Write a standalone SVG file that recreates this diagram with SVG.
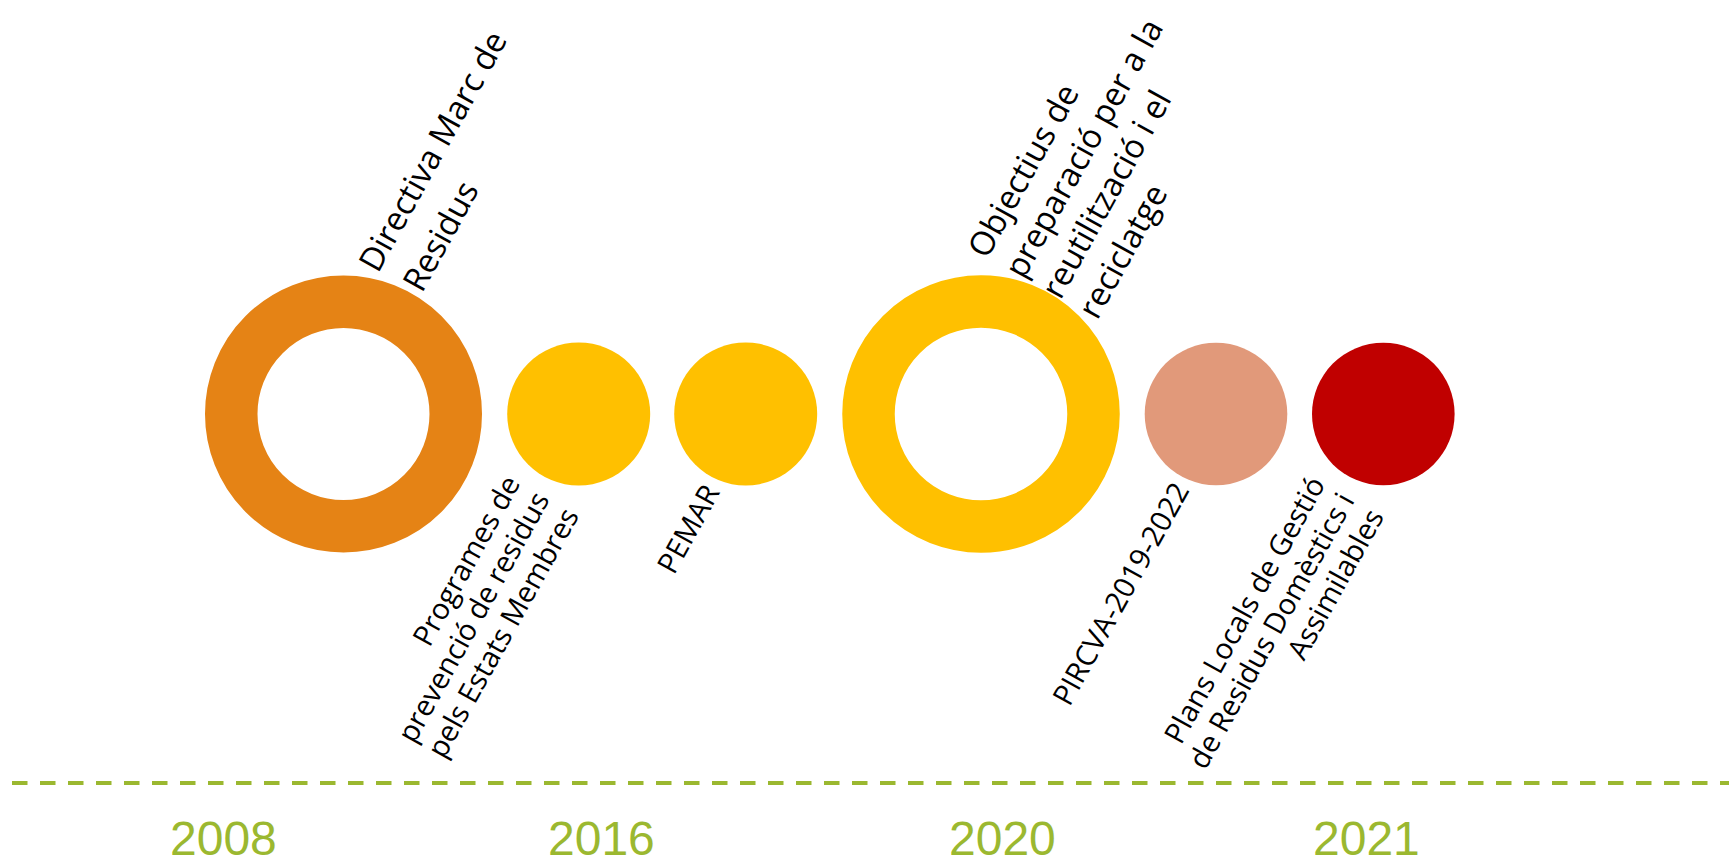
<svg xmlns="http://www.w3.org/2000/svg" width="1729" height="858" viewBox="0 0 1729 858">
  <style>
    .lbl { font-family: "Open Sans", "DejaVu Sans", sans-serif; fill: #000000; }
    .top { font-size: 33px; }
    .bot { font-size: 29px; text-anchor: end; }
    .year { font-family: "Liberation Sans", Arial, sans-serif; font-size: 48px; fill: #9BB830; }
    .ring { fill: none; stroke-width: 52.5; }
  </style>
  <rect width="1729" height="858" fill="#ffffff"/>

  <g id="connectors">
    <line x1="12" y1="783" x2="1729" y2="783" stroke="#9BB830" stroke-width="4" stroke-dasharray="15.5 12.5"/>
  </g>

  <g id="node-directiva">
    <circle class="ring" cx="343.5" cy="414" r="112.25" stroke="#E58315"/>
    <g transform="translate(378,274) rotate(-61)">
      <text class="lbl top" x="0" y="0">Directiva Marc de</text>
      <text class="lbl top" x="4" y="48">Residus</text>
    </g>
  </g>

  <g id="node-programes">
    <circle cx="578.7" cy="414" r="71.5" fill="#FFC000"/>
    <g transform="translate(521,483) rotate(-61)">
      <text class="lbl bot" x="0" y="0">Programes de</text>
      <text class="lbl bot" x="0" y="33.5">prevenció de residus</text>
      <text class="lbl bot" x="0" y="67">pels Estats Membres</text>
    </g>
  </g>

  <g id="node-pemar">
    <circle cx="745.7" cy="414" r="71.5" fill="#FFC000"/>
    <g transform="translate(720.5,492) rotate(-61)">
      <text class="lbl bot" x="0" y="0">PEMAR</text>
    </g>
  </g>

  <g id="node-objectius">
    <circle class="ring" cx="981" cy="414" r="112.5" stroke="#FFC000"/>
    <g transform="translate(987,260) rotate(-61)">
      <text class="lbl top" x="0" y="0">Objectius de</text>
      <text class="lbl top" x="0" y="42">preparació per a la</text>
      <text class="lbl top" x="0" y="84">reutilització i el</text>
      <text class="lbl top" x="0" y="126">reciclatge</text>
    </g>
  </g>

  <g id="node-pircva">
    <circle cx="1216" cy="414" r="71.3" fill="#E1997A"/>
    <g transform="translate(1190,490) rotate(-61)">
      <text class="lbl bot" x="0" y="0">PIRCVA-2019-2022</text>
    </g>
  </g>

  <g id="node-plans">
    <circle cx="1383.3" cy="414" r="71.3" fill="#C00000"/>
    <g transform="translate(1326,484) rotate(-61)">
      <text class="lbl bot" x="0" y="0">Plans Locals de Gestió</text>
      <text class="lbl bot" x="0" y="33.5">de Residus Domèstics i</text>
      <text class="lbl bot" x="0" y="67">Assimilables</text>
    </g>
  </g>

  <g id="years">
    <text class="year" x="170" y="855">2008</text>
    <text class="year" x="548" y="855">2016</text>
    <text class="year" x="949" y="855">2020</text>
    <text class="year" x="1313" y="855">2021</text>
  </g>
</svg>
